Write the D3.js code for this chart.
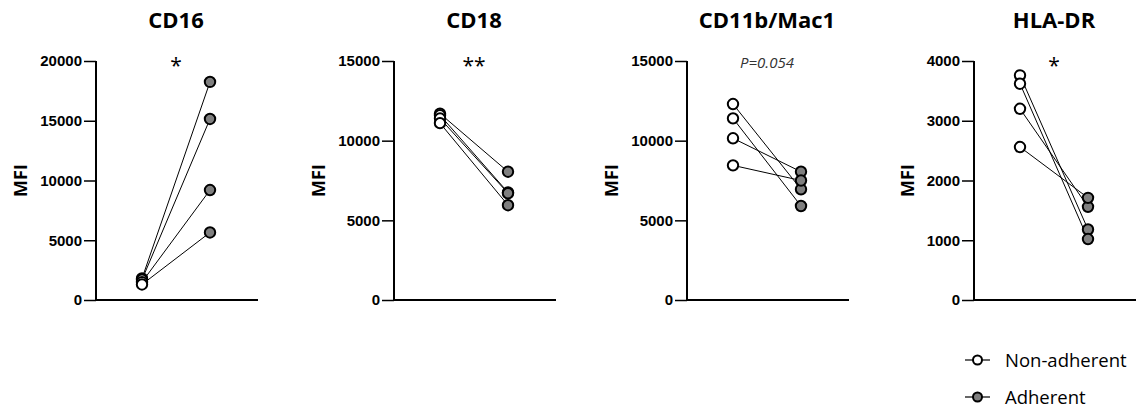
<!DOCTYPE html>
<html>
<head>
<meta charset="utf-8">
<script src="https://cdn.jsdelivr.net/npm/d3@7"></script>
<style>
  body { margin: 0; background: #fff; }
  svg { font-family: "Open Sans", sans-serif; }
</style>
</head>
<body>
<svg width="1140" height="409"></svg>
<script>
// Paired MFI values, non-adherent vs adherent cells, four markers.

const groups = ["Non-adherent", "Adherent"];
const markers = ["CD16", "CD18", "CD11b/Mac1", "HLA-DR"];
const yMax = [20000, 15000, 15000, 4000];
const yStep = [5000, 5000, 5000, 1000];
const signif = ["*", "**", "P=0.054", "*"];

// one entry per donor, [non-adherent, adherent]
const cd16 = [[1800, 18250], [1700, 15150], [1500, 9200], [1300, 5650]];
const cd18 = [[11700, 8050], [11600, 6750], [11400, 6700], [11100, 5950]];
const cd11b = [[12300, 6950], [11400, 5900], [10150, 8050], [8450, 7500]];
const hladr = [[3760, 1180], [3620, 1020], [3200, 1560], [2560, 1710]];
const pairs = [cd16, cd18, cd11b, hladr];

const svg = d3.select("svg");
const axisX = [96, 394, 687, 974];
const yTop = 61;
const yBottom = 300;
const panelW = 162;

const nonFill = "#ffffff";
const adhFill = "#7f7f7f";

markers.forEach((name, i) => {
  const g = svg.append("g").attr("transform", `translate(${axisX[i]},0)`);

  const y = d3.scaleLinear().domain([0, yMax[i]]).range([yBottom, yTop]);
  const x = d3.scalePoint().domain(groups).range([46, 114]);

  const yAxis = g
    .append("g")
    .call(
      d3.axisLeft(y)
        .tickValues(d3.range(0, yMax[i] + 1, yStep[i]))
        .tickFormat(d3.format("d"))
        .tickSize(12)
        .tickPadding(2)
    );
  yAxis.select(".domain").attr("stroke-width", 2).attr("d", `M0,${yTop}V${yBottom}`);
  yAxis.selectAll(".tick line").attr("stroke-width", 1.5);
  yAxis
    .selectAll("text")
    .attr("font-size", 15)
    .attr("font-weight", "bold")
    .attr("fill", "#000");

  g.append("line")
    .attr("x1", 0)
    .attr("x2", panelW)
    .attr("y1", yBottom)
    .attr("y2", yBottom)
    .attr("stroke", "#000")
    .attr("stroke-width", 2);

  let labelW = 0;
  yAxis.selectAll("text").each(function () {
    labelW = Math.max(labelW, this.getComputedTextLength());
  });

  g.append("text")
    .attr("transform", `translate(${-14 - labelW - 13},${(yTop + yBottom) / 2}) rotate(-90)`)
    .attr("text-anchor", "middle")
    .attr("font-size", 18)
    .attr("font-weight", "bold")
    .text("MFI");

  g.append("text")
    .attr("x", 80)
    .attr("y", 28)
    .attr("text-anchor", "middle")
    .attr("font-size", 22)
    .attr("font-weight", "bold")
    .text(name);

  const isP = signif[i].startsWith("P");
  g.append("text")
    .attr("x", 80)
    .attr("y", isP ? 68 : 73)
    .attr("text-anchor", "middle")
    .attr("font-size", isP ? 15 : 21)
    .attr("font-style", isP ? "italic" : "normal")
    .attr("fill", isP ? "#333" : "#000")
    .text(signif[i]);

  g.selectAll(".pair")
    .data(pairs[i])
    .enter()
    .append("line")
    .attr("x1", x(groups[0]))
    .attr("x2", x(groups[1]))
    .attr("y1", (d) => y(d[0]))
    .attr("y2", (d) => y(d[1]))
    .attr("stroke", "#000")
    .attr("stroke-width", 1);

  groups.forEach((grp, k) => {
    g.selectAll(".pt" + k)
      .data(pairs[i])
      .enter()
      .append("circle")
      .attr("cx", x(grp))
      .attr("cy", (d) => y(d[k]))
      .attr("r", 5.2)
      .attr("fill", k === 0 ? nonFill : adhFill)
      .attr("stroke", "#000")
      .attr("stroke-width", 2);
  });
});

// legend
const legend = svg
  .append("g")
  .selectAll("g")
  .data(groups)
  .enter()
  .append("g")
  .attr("transform", (d, i) => `translate(965,${360 + i * 37})`);

legend
  .append("line")
  .attr("x1", 0)
  .attr("x2", 25)
  .attr("stroke", "#000")
  .attr("stroke-width", 1.2);

legend
  .append("circle")
  .attr("cx", 12.5)
  .attr("r", 4.5)
  .attr("fill", (d, i) => (i === 0 ? nonFill : adhFill))
  .attr("stroke", "#000")
  .attr("stroke-width", 2);

legend
  .append("text")
  .attr("x", 40)
  .attr("y", 6.5)
  .attr("font-size", 18.5)
  .text((d) => d);
</script>
</body>
</html>
